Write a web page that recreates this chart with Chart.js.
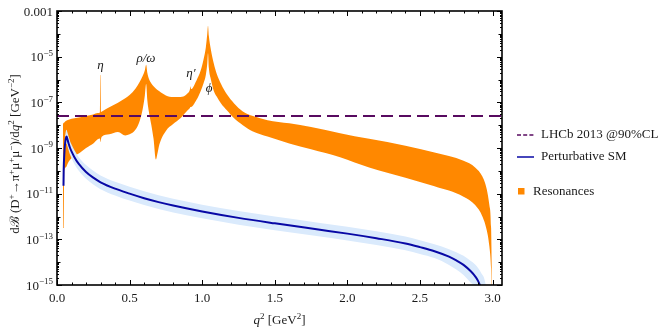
<!DOCTYPE html>
<html><head><meta charset="utf-8">
<script src="https://cdn.jsdelivr.net/npm/chart.js@4/dist/chart.umd.min.js"></script>
<style>html,body{margin:0;padding:0;background:#fff;}#wrap{width:664px;height:329px;}</style>
</head><body><div id="wrap"><canvas id="c" width="664" height="329"></canvas></div>
<script>
// ---- data ----
const q2Res = [0.041,0.0465,0.05,0.06,0.08,0.12,0.16,0.2,0.25,0.28,0.296,0.2985,0.3005,0.303,0.31,0.36,0.42,0.47,0.5,0.54,0.57,0.59,0.605,0.614,0.622,0.635,0.65,0.665,0.682,0.69,0.705,0.75,0.8,0.85,0.9,0.915,0.919,0.923,0.96,0.99,1.01,1.025,1.035,1.04,1.046,1.06,1.08,1.1,1.13,1.17,1.22,1.28,1.35,1.45,1.6,1.75,1.95,2.15,2.4,2.6,2.8,2.88,2.93,2.96,2.978,2.99,2.997];
const resUpper = [1.12e-8,1.26e-8,1.32e-8,1.51e-8,1.74e-8,2.0e-8,2.24e-8,2.51e-8,2.95e-8,3.39e-8,3.55e-8,1.58e-6,1.58e-6,3.8e-8,3.98e-8,6.03e-8,9.55e-8,1.51e-7,2.09e-7,3.98e-7,7.94e-7,1.41e-6,2.51e-6,4.47e-6,2.0e-6,1.0e-6,6.76e-7,5.01e-7,3.98e-7,3.55e-7,3.02e-7,2.0e-7,1.7e-7,1.7e-7,2.51e-7,3.55e-7,5.01e-7,3.8e-7,8.91e-7,2.51e-6,7.94e-6,2.51e-5,1.0e-4,2.24e-4,7.94e-5,2.0e-5,5.01e-6,1.78e-6,6.31e-7,2.24e-7,8.91e-8,3.98e-8,2.51e-8,1.66e-8,1.2e-8,8.32e-9,4.47e-9,2.51e-9,1.26e-9,6.31e-10,2.75e-10,1.41e-10,5.62e-11,1.58e-11,3.16e-12,3.16e-13,1e-16];
const resLower = [3.16e-13,3.16e-13,1e-10,1.41e-10,2.51e-10,4.47e-10,6.31e-10,1e-9,1.58e-9,2.4e-9,2.63e-9,2.0e-9,1.78e-9,2.4e-9,3.16e-9,3.98e-9,5.01e-9,3.55e-9,3.98e-9,6.31e-9,1.58e-8,5.01e-8,2.0e-7,6.31e-7,1.26e-7,3.16e-8,1e-8,2.51e-9,3.16e-10,5.01e-10,1.41e-9,5.62e-9,1.12e-8,2.0e-8,4.47e-8,5.62e-8,6.31e-8,6.31e-8,1.26e-7,3.16e-7,7.08e-7,1.58e-6,5.01e-6,1.41e-5,3.16e-6,1e-6,3.16e-7,1.78e-7,8.91e-8,4.47e-8,2.0e-8,1e-8,5.25e-9,3.16e-9,1.58e-9,8.91e-10,3.98e-10,1.41e-10,5.01e-11,2.09e-11,7.41e-12,3.16e-12,1e-12,2.51e-13,5.01e-14,5.01e-15,1e-16];

const q2SM = [0.0447,0.046,0.05,0.055,0.06,0.066,0.072,0.08,0.09,0.1,0.12,0.15,0.2,0.25,0.3,0.4,0.5,0.6,0.7,0.8,1.0,1.25,1.5,1.8,2.0,2.2,2.4,2.5,2.6,2.7,2.75,2.8,2.85,2.88,2.9,2.92,2.95,2.97];
const smCentral = [2.24e-11,1e-10,5.01e-10,1.41e-9,2.51e-9,3.16e-9,2.4e-9,1.58e-9,1e-9,7.08e-10,3.98e-10,2.0e-10,8.91e-11,5.01e-11,3.16e-11,1.66e-11,1e-11,6.31e-12,4.27e-12,3.02e-12,1.66e-12,8.71e-13,5.01e-13,2.69e-13,1.78e-13,1.12e-13,6.61e-14,4.57e-14,3.02e-14,1.74e-14,1.2e-14,7.59e-15,3.98e-15,2.4e-15,1.51e-15,7.08e-16,1e-16,1e-16];
const smUpper = [4.47e-11,2.0e-10,1e-9,2.82e-9,5.01e-9,6.31e-9,4.79e-9,3.16e-9,2.0e-9,1.41e-9,7.94e-10,3.98e-10,1.78e-10,1e-10,6.31e-11,3.31e-11,2.0e-11,1.26e-11,8.51e-12,6.03e-12,3.31e-12,1.74e-12,1e-12,5.37e-13,3.55e-13,2.24e-13,1.32e-13,9.12e-14,6.03e-14,3.72e-14,2.75e-14,1.91e-14,1.12e-14,7.94e-15,5.62e-15,3.55e-15,1.26e-15,1e-16];
const smLower = [1.12e-11,5.01e-11,2.51e-10,7.08e-10,1.26e-9,1.58e-9,1.2e-9,7.94e-10,5.01e-10,3.55e-10,2.0e-10,1e-10,4.47e-11,2.51e-11,1.58e-11,8.32e-12,5.01e-12,3.16e-12,2.14e-12,1.51e-12,8.32e-13,4.37e-13,2.51e-13,1.35e-13,8.91e-14,5.62e-14,3.31e-14,2.29e-14,1.51e-14,7.59e-15,4.79e-15,2.75e-15,1.26e-15,7.08e-16,1e-16,1e-16,1e-16,1e-16];

const lhcbLimit = 2.5e-8;
const xRange = [0, 3.065];
const yRange = [1e-15, 1e-3];
const xTickValues = [0, 0.5, 1, 1.5, 2, 2.5, 3];
const xTickLabels = ['0.0', '0.5', '1.0', '1.5', '2.0', '2.5', '3.0'];
const yLabelExponents = [-3, -5, -7, -9, -11, -13, -15];
const legendLabels = ['LHCb 2013 @90%CL', 'Perturbative SM', 'Resonances'];
const peakNames = ['η', 'ρ/ω', 'η′', 'ϕ'];
const peakQ2 = [0.30, 0.613, 0.923, 1.047];
const peakLabelValue = [2.9e-6, 5.9e-6, 1.3e-6, 2.8e-7];

// ---- styling ----
const F = '"Liberation Serif", "Times New Roman", serif';
const ORANGE = 'rgb(255,136,0)';
const BLUE = 'rgb(8,8,165)';
const LIGHTBLUE = 'rgb(218,234,252)';
const PURPLE = 'rgb(88,10,96)';

const pts = (xs, ys) => xs.map((x, i) => ({x, y: ys[i]}));

function segFont(s, size){ const sz = s.sup ? Math.round(size*0.7) : size; return (s.it ? 'italic ' : '') + sz + 'px ' + F; }
function richWidth(ctx, segs, size){ let w = 0; for (const s of segs){ ctx.font = segFont(s, size); w += ctx.measureText(s.t).width; } return w; }
function drawRich(ctx, segs, x, y, size){ let cx = x; for (const s of segs){ ctx.font = segFont(s, size); ctx.fillText(s.t, cx, y + (s.sup ? -size*0.4 : 0)); cx += ctx.measureText(s.t).width; } }

const decor = {
  id: 'decor',
  afterDraw(chart){
    const {ctx, chartArea: a, scales: {x, y}} = chart;
    ctx.save();
    ctx.strokeStyle = '#000';
    const line = (x1,y1,x2,y2) => { ctx.beginPath(); ctx.moveTo(x1,y1); ctx.lineTo(x2,y2); ctx.stroke(); };
    ctx.lineWidth = 1;
    for (let i = 0; i <= 30; i++){
      const px = Math.round(x.getPixelForValue(i/10)) + 0.5;
      const L = i % 5 === 0 ? 5 : 2.5;
      line(px, a.bottom, px, a.bottom - L);
      line(px, a.top, px, a.top + L);
    }
    for (let e = -15; e <= -3; e++){
      const py = Math.round(y.getPixelForValue(Math.pow(10, e))) + 0.5;
      const L = (e % 2 !== 0) ? 5 : 3.5;
      line(a.left, py, a.left + L, py);
      line(a.right, py, a.right - L, py);
      if (e < -3){
        for (let m = 2; m <= 9; m++){
          const pm = Math.round(y.getPixelForValue(m*Math.pow(10, e))) + 0.5;
          line(a.left, pm, a.left + 2, pm);
          line(a.right, pm, a.right - 2, pm);
        }
      }
    }
    ctx.lineWidth = 1.6;
    ctx.strokeRect(a.left, a.top, a.right - a.left, a.bottom - a.top);

    ctx.fillStyle = '#1a1a1a';
    ctx.font = '13px ' + F; ctx.textAlign = 'center'; ctx.textBaseline = 'alphabetic';
    xTickValues.forEach((v, i) => ctx.fillText(xTickLabels[i], x.getPixelForValue(v), 301.5));
    ctx.textAlign = 'left';
    yLabelExponents.forEach(e => {
      const py = y.getPixelForValue(Math.pow(10, e));
      const segs = e === -3 ? [{t: '0.001'}] : [{t: '10'}, {t: '−' + (-e), sup: true}];
      const w = richWidth(ctx, segs, 13);
      drawRich(ctx, segs, a.left - 4 - w, py + 4.5, 13);
    });
    const xt = [{t: 'q', it: true}, {t: '2', sup: true}, {t: ' [GeV'}, {t: '2', sup: true}, {t: ']'}];
    const xw = richWidth(ctx, xt, 13);
    drawRich(ctx, xt, (a.left + a.right)/2 - xw/2, 324, 13);
    const yt = [{t: 'd'}, {t: 'ℬ'}, {t: ' (D'}, {t: '+', sup: true}, {t: '→π'}, {t: '+', sup: true}, {t: 'μ'}, {t: '+', sup: true}, {t: 'μ'}, {t: '−', sup: true}, {t: ')/d'}, {t: 'q', it: true}, {t: '2', sup: true}, {t: ' [GeV'}, {t: '−2', sup: true}, {t: ']'}];
    const yw = richWidth(ctx, yt, 13);
    ctx.save();
    ctx.translate(19, (a.top + a.bottom)/2 + 6);
    ctx.rotate(-Math.PI/2);
    drawRich(ctx, yt, -yw/2, 0, 13);
    ctx.restore();
    ctx.textAlign = 'center';
    ctx.font = 'italic 13px ' + F;
    peakNames.forEach((n, i) => ctx.fillText(n, x.getPixelForValue(peakQ2[i]), y.getPixelForValue(peakLabelValue[i])));
    ctx.textAlign = 'left'; ctx.textBaseline = 'middle'; ctx.font = '13px ' + F;
    ctx.lineWidth = 1.5;
    ctx.strokeStyle = PURPLE; ctx.setLineDash([4, 2.2]);
    line(517, 135, 534, 135);
    ctx.setLineDash([]);
    ctx.fillText(legendLabels[0], 541, 135);
    ctx.strokeStyle = BLUE;
    line(517, 157, 534, 157);
    ctx.fillText(legendLabels[1], 541, 157);
    ctx.fillStyle = ORANGE;
    ctx.fillRect(518, 188, 6.5, 6.5);
    ctx.fillStyle = '#1a1a1a';
    ctx.fillText(legendLabels[2], 533, 191.5);
    ctx.restore();
  }
};

new Chart(document.getElementById('c'), {
  type: 'line',
  data: {
    datasets: [
      {label: legendLabels[0], data: [{x: xRange[0], y: lhcbLimit}, {x: xRange[1], y: lhcbLimit}], borderColor: PURPLE, borderWidth: 2, borderDash: [12, 6], pointRadius: 0, fill: false, order: 0},
      {label: legendLabels[1], data: pts(q2SM, smCentral), borderColor: BLUE, borderWidth: 2, pointRadius: 0, fill: false, cubicInterpolationMode: 'monotone', order: 1},
      {label: 'SM upper', data: pts(q2SM, smUpper), borderWidth: 0, borderColor: 'rgba(0,0,0,0)', backgroundColor: LIGHTBLUE, pointRadius: 0, fill: 3, cubicInterpolationMode: 'monotone', order: 2},
      {label: 'SM lower', data: pts(q2SM, smLower), borderWidth: 0, borderColor: 'rgba(0,0,0,0)', pointRadius: 0, fill: false, cubicInterpolationMode: 'monotone', order: 3},
      {label: legendLabels[2], data: pts(q2Res, resUpper), borderWidth: 0, borderColor: 'rgba(0,0,0,0)', backgroundColor: ORANGE, pointRadius: 0, fill: 5, cubicInterpolationMode: 'monotone', order: 4},
      {label: 'Res lower', data: pts(q2Res, resLower), borderWidth: 0, borderColor: 'rgba(0,0,0,0)', pointRadius: 0, fill: false, cubicInterpolationMode: 'monotone', order: 5}
    ]
  },
  options: {
    responsive: false, animation: false, devicePixelRatio: 1,
    layout: {padding: {left: 0, top: 11, right: 162, bottom: 0}},
    plugins: {legend: {display: false}, tooltip: {enabled: false}},
    scales: {
      x: {type: 'linear', min: xRange[0], max: xRange[1], grid: {display: false}, border: {display: false}, ticks: {display: false},
          afterFit: s => { s.height = 44; }},
      y: {type: 'logarithmic', min: yRange[0], max: yRange[1], grid: {display: false}, border: {display: false}, ticks: {display: false},
          afterFit: s => { s.width = 57; }}
    }
  },
  plugins: [decor]
});
</script>
</body></html>
